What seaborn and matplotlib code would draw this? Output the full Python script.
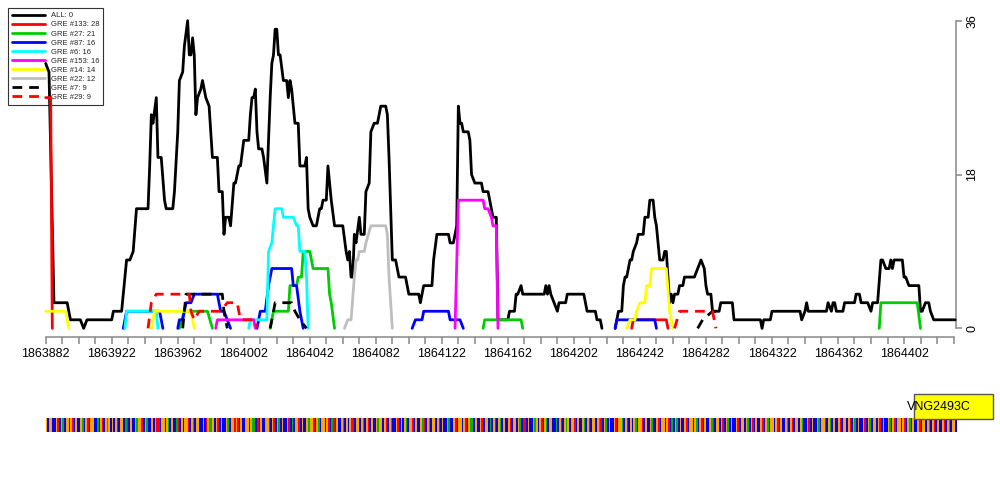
import numpy as np
import matplotlib
matplotlib.use('Agg')
import matplotlib.pyplot as plt
from matplotlib.lines import Line2D
from matplotlib.patches import Rectangle
import seaborn as sns

START = 1863882

# site counts per position, offsets from START; each inner list is one drawn stretch
all_pos = [[0, 2, 5, 13, 15, 21, 23, 25, 40, 41, 46, 49, 51, 53, 55, 62, 63, 64, 65, 67, 68, 70, 72, 73, 77, 78,
            80, 81, 83, 84, 86, 87, 88, 89, 90, 91, 92, 94, 95, 97, 99, 101, 104, 105, 107, 108, 109, 111, 112, 114,
            115, 117, 118, 120, 123, 124, 125, 126, 127, 128, 129, 131, 132, 134, 136, 137, 138, 139, 140, 141, 142,
            144, 146, 147, 148, 149, 151, 153, 154, 157, 158, 159, 160, 162, 164, 166, 167, 168, 170, 171, 172, 173,
            175, 180, 182, 183, 184, 185, 186, 187, 188, 190, 191, 193, 194, 196, 197, 199, 201, 203, 206, 207, 208,
            210, 212, 214, 218, 220, 226, 227, 229, 234, 235, 237, 244, 245, 247, 248, 249, 250, 251, 252, 253, 256,
            257, 258, 260, 264, 265, 268, 270, 271, 273, 274, 280, 281, 284, 285, 286, 288, 289, 302, 303, 304, 305,
            306, 308, 310, 311, 315, 316, 326, 328, 333, 334, 336, 337],
           [345, 347, 349, 350, 351, 352, 354, 355, 356, 358, 359, 362, 363, 365, 366, 368, 369, 370, 372, 374, 375,
            376, 377, 378, 379, 380, 381, 383, 384, 386, 387, 393, 395, 397, 399, 400, 401, 403, 404, 408, 409, 416,
            417, 433, 434, 435, 439, 440, 457, 458, 460, 461, 462, 473, 474, 476, 477, 478, 479, 483, 484, 490, 491,
            493, 494, 498, 500, 501, 504, 506, 507, 509, 511, 512, 513, 514, 519, 520, 521, 523, 529, 530, 531, 533,
            535, 536, 538, 551]]
all_val = [[31, 30, 3, 3, 1, 1, 0, 1, 1, 2, 2, 8, 8, 9, 14, 14, 19, 25, 24, 27, 20, 20, 15, 14, 14, 16,
            23, 29, 30, 33, 36, 32, 32, 34, 32, 25, 27, 28, 29, 27, 26, 20, 20, 16, 16, 11, 13, 13, 12, 17,
            17, 19, 19, 22, 22, 25, 27, 27, 28, 23, 21, 21, 20, 17, 27, 31, 32, 35, 35, 32, 32,
            29, 29, 27, 29, 28, 24, 24, 19, 19, 20, 14, 13, 12, 12, 14, 14, 15, 15, 19, 17, 15,
            12, 12, 9, 8, 9, 6, 6, 11, 10, 13, 11, 11, 16, 17, 23, 24, 24, 26, 26, 25, 20,
            8, 8, 6, 6, 4, 4, 3, 5, 5, 8, 11, 11, 10, 10, 11, 12, 26, 24, 24, 23, 23,
            22, 18, 17, 17, 16, 16, 14, 13, 13, 1, 1, 2, 2, 4, 4, 5, 4, 4, 5, 4, 5,
            4, 3, 2, 3, 3, 4, 4, 2, 2, 1, 1, 0],
           [0, 2, 2, 5, 6, 6, 8, 8, 9, 10, 11, 11, 13, 13, 15, 15, 13, 12, 8, 8, 9,
            9, 6, 3, 4, 3, 4, 4, 5, 5, 6, 6, 7, 8, 7, 5, 4, 4, 2, 2, 3, 3,
            1, 1, 0, 1, 1, 2, 2, 1, 2, 3, 2, 2, 3, 2, 3, 3, 2, 2, 3, 3, 4,
            4, 3, 3, 2, 3, 3, 8, 8, 7, 7, 8, 7, 8, 8, 6, 6, 5, 5, 2, 2, 3,
            3, 2, 1, 1]]

gre133_pos = [[0, 3, 4], [355, 356, 376, 377]]
gre133_val = [[27, 27, 0], [0, 1, 1, 0]]

gre27_pos = [[81, 84, 98, 101],
             [136, 138, 147, 148, 152, 153, 155, 156, 160, 162, 171, 172, 173, 175],
             [265, 266, 288, 289], [505, 506, 528, 530]]
gre27_val = [[0, 2, 2, 0], [0, 2, 2, 5, 5, 6, 6, 9, 9, 7, 7, 4, 3, 0], [0, 1, 1, 0], [0, 3, 3, 0]]

gre87_pos = [[47, 49, 69, 71],
             [80, 81, 83, 85, 88, 90, 104, 106, 108, 110, 112],
             [128, 129, 130, 133, 135, 137, 149, 150, 152, 154, 156],
             [222, 224, 228, 229, 244, 245, 251, 253], [345, 346, 369, 370]]
gre87_val = [[0, 2, 2, 0], [0, 1, 1, 3, 3, 4, 4, 2, 2, 1, 0], [0, 1, 2, 2, 5, 7, 7, 5, 5, 2, 0],
             [0, 1, 1, 2, 2, 1, 1, 0], [0, 1, 1, 0]]

gre6_pos = [[48, 49, 67, 68], [123, 124, 134, 135, 137, 139, 143, 144, 150, 152, 153, 154, 157, 158, 159]]
gre6_val = [[0, 2, 2, 0], [0, 1, 1, 9, 10, 14, 14, 13, 13, 12, 12, 9, 9, 6, 0]]

gre153_pos = [[103, 104, 126, 127], [248, 250, 265, 266, 268, 270, 271, 273, 274]]
gre153_val = [[0, 1, 1, 0], [0, 15, 15, 14, 14, 13, 12, 12, 0]]

gre14_pos = [[0, 12, 14], [64, 66, 88, 90], [352, 354, 357, 358, 360, 363, 364, 366, 367, 376, 378, 379, 380]]
gre14_val = [[2, 2, 0], [0, 2, 2, 0], [0, 1, 1, 2, 3, 3, 5, 5, 7, 7, 2, 1, 0]]

gre22_pos = [[181, 183, 185, 187, 188, 189, 190, 193, 194, 197, 206, 207, 208, 210]]
gre22_val = [[0, 1, 1, 6, 8, 8, 9, 9, 10, 12, 12, 11, 6, 0]]

gre7_pos = [[83, 85, 107, 108, 110], [136, 139, 149, 151, 154, 158], [395, 398, 404, 410]]
gre7_val = [[0, 4, 4, 2, 0], [0, 3, 3, 2, 1, 0], [0, 1, 2, 2]]

gre29_pos = [[62, 64, 67, 87, 88, 90, 93, 106, 110, 116, 118, 127, 128], [381, 384, 404, 406]]
gre29_val = [[0, 3, 4, 4, 2, 1, 2, 2, 3, 3, 1, 1, 0], [0, 2, 2, 0]]

labels = ['ALL: 0', 'GRE #133: 28', 'GRE #27: 21', 'GRE #87: 16', 'GRE #6: 16', 'GRE #153: 16',
          'GRE #14: 14', 'GRE #22: 12', 'GRE #7: 9', 'GRE #29: 9']
colors = ['black', '#FF0000', '#00CD00', '#0000FF', '#00FFFF', '#FF00FF', '#FFFF00', '#BEBEBE', 'black', '#FF0000']
styles = ['-', '-', '-', '-', '-', '-', '-', '-', (0, (3.5, 2.5)), (0, (3.5, 2.5))]
series = [(all_pos, all_val), (gre133_pos, gre133_val), (gre27_pos, gre27_val), (gre87_pos, gre87_val),
          (gre6_pos, gre6_val), (gre153_pos, gre153_val), (gre14_pos, gre14_val), (gre22_pos, gre22_val),
          (gre7_pos, gre7_val), (gre29_pos, gre29_val)]

# sequence below the track (C blue, G orange, A green, T red)
sequence = ('GCGGCCGTCGACGGCGTCGCCGACGTCGGCCACGTCGAGCGCGTCGGCAT'
            'CGCCGAGGTCGACCGCGTTCGGCGACGCCATCGCGGTCGACGGCCGCTGA'
            'AGCGTCGCCGACGGTGTCGCCGGCGAACTCGCCGGTCGTCGACGCCGTCA'
            'CGGTCGCCGAGGTCGACGGCGTCATCGCCGACGCGTTCGGCGACGTCGCC'
            'GAGGCGTCGACCGTCGCGACGGTCGCCGATCGACGGCGTCGCCGACCGTC'
            'GGCGTCGAACGCCGTCGGCACGTCGACGCCGTCGGCGACTTCGCCGAGCG'
            'TCGACGGCCACGTCGAGCGGTCGCCGACGTCGGCGATCGACGCCGTCGGA'
            'CGTCGCGACGGTCGCCGACCGTCGGCGTCACGACGCCGTCGGCGACGTCG'
            'CCGATCGGCGTCGACGCCGTCGGCGACGTCGCCGTCGACGGCGTCGCCGA'
            'CGTCGGCGACCGTCGCCGACGGTCGACGCCGTCGGCGTCGACGCCGTCGA'
            'CGGCGTCGCCGACGTCGGCGTCGACGCCGTCGGCGACGTCGCCGTCGACG'
            'GC')
base_colors = {'A': '#00B400', 'C': '#0000FF', 'G': '#FFA500', 'T': '#FF0000'}

gene_name = 'VNG2493C'
gene_start = 1864408
gene_end = 1864456

sns.set_style('ticks')
plt.rcParams['font.family'] = ['Liberation Sans', 'DejaVu Sans']

PX = 1.6506  # pixels per bp on the track
fig = plt.figure(figsize=(10, 5), dpi=100)

# strip axes covering the whole figure, y in pixels
ax2 = fig.add_axes([0, 0, 1, 1])
ax2.set_xlim(START - 45.7 / PX, START + (1000 - 45.7) / PX)
ax2.set_ylim(500, 0)
ax2.axis('off')
ax2.bar(START + np.arange(len(sequence)), 14, bottom=418, width=1.0, align='edge',
        color=[base_colors[b] for b in sequence], linewidth=0)
ax2.add_patch(Rectangle((gene_start, 394), gene_end - gene_start, 25, facecolor='#FFFF00',
                        edgecolor='#555555', linewidth=1))
ax2.text(gene_start - 4, 407, gene_name, ha='left', va='center', fontsize=9, color='black')

ax = fig.add_axes([0.0457, 1 - 336.9 / 500, 0.9103, (336.9 - 20.7) / 500])
ax.patch.set_alpha(0)
for (pos, val), c, ls in zip(series, colors, styles):
    for p, v in zip(pos, val):
        sns.lineplot(x=[START + q for q in p], y=v, ax=ax, color=c, lw=2, linestyle=ls,
                     estimator=None, sort=False, legend=False, zorder=3, clip_on=False)

ax.set_xlim(START, START + 551.5)
ax.set_ylim(-1, 36)
ax.set_xlabel('')
ax.set_ylabel('')

major = np.arange(START, START + 521, 40)
ax.set_xticks(major)
ax.set_xticklabels([str(m) for m in major])
ax.set_xticks(np.arange(START, START + 551, 10), minor=True)
ax.yaxis.tick_right()
ax.set_yticks([0, 18, 36])
ax.set_yticklabels(['0', '18', '36'], rotation=90, va='center')

for s in ['top', 'left']:
    ax.spines[s].set_visible(False)
ax.spines['bottom'].set_bounds(START, START + 550)
ax.spines['right'].set_bounds(0, 36)
for s in ['bottom', 'right']:
    ax.spines[s].set_color('#888888')
    ax.spines[s].set_linewidth(1.1)
ax.tick_params(axis='x', which='both', length=5, width=1.1, color='#888888', labelsize=9,
               labelcolor='black', pad=3)
ax.tick_params(axis='y', length=4.5, width=1.1, color='#888888', labelsize=9, labelcolor='black',
               pad=3, right=True, left=False)

handles = [Line2D([], [], color=c, lw=2, linestyle=ls) for c, ls in zip(colors, styles)]
leg = ax.legend(handles, labels, loc='upper left', bbox_to_anchor=(0.0083, 0.9834),
                bbox_transform=fig.transFigure, fontsize=5.5, frameon=True, fancybox=False,
                edgecolor='#333333', framealpha=1, borderaxespad=0, handlelength=4.3,
                handletextpad=0.8, labelspacing=0.22, borderpad=0.5)
leg.get_frame().set_linewidth(0.8)
leg.set_zorder(1)

fig.savefig('out.png', dpi=100)
